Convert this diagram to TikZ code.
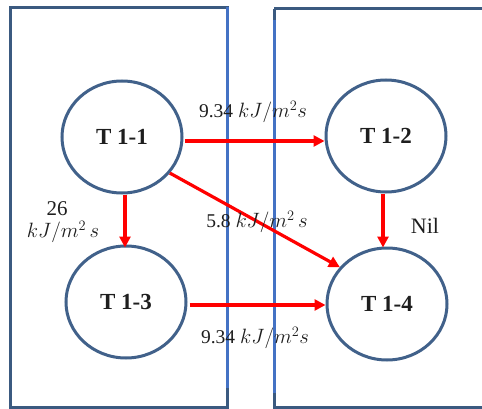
\documentclass[tikz,border=0pt]{standalone}
\usepackage{fontspec}
\setmainfont{Liberation Serif}
\usetikzlibrary{shapes.geometric,arrows.meta}
\definecolor{frame}{HTML}{3B5A80}
\definecolor{sep}{HTML}{4472C4}
\definecolor{ring}{HTML}{41618A}
\definecolor{txt}{HTML}{1E1E1E}
\tikzset{
  tnode/.style={ellipse,draw=ring,line width=3pt,minimum width=120pt,minimum height=112pt,inner sep=0pt,
    font=\fontsize{23}{26}\selectfont\bfseries,text=txt},
  flow/.style={draw=red,line width=3.2pt,-{Triangle[length=11pt,width=11pt]}},
  lbl/.style={font=\fontsize{19.5}{21}\selectfont,text=txt,inner sep=0pt},
  box/.style={draw=frame,line width=3pt},
  sepline/.style={draw=sep,line width=3pt}
}
\begin{document}
\begin{tikzpicture}[x=1pt,y=-1pt]
\useasboundingbox (0,0) rectangle (482,409);
\fill[white] (0,0) rectangle (482,409);
% frames
\draw[box] (10,8) rectangle (227.5,407);
\draw[box] (274,9) -- (490,9);
\draw[box] (274,9) -- (274,407) -- (490,407);
\draw[sepline] (227.5,7) -- (227.5,388);
\draw[sepline] (274,20) -- (274,393);
% nodes
\node[tnode] (t11) at (122,137) {T 1-1};
\node[tnode] (t12) at (386,136) {T 1-2};
\node[tnode] (t13) at (126,302) {T 1-3};
\node[tnode] (t14) at (387,304) {T 1-4};
% connectors
\draw[flow] ([xshift=1pt,yshift=-4pt]t11.east) -- ([yshift=-5pt]t12.west);
\draw[flow] ([xshift=3pt]t11.south) -- ([xshift=-1pt,yshift=-3pt]t13.north);
\draw[flow] (t11.-37) -- (t14.142);
\draw[flow] ([xshift=-3pt]t12.south) -- ([xshift=-4pt,yshift=-1pt]t14.north);
\draw[flow] ([xshift=2pt,yshift=-3pt]t13.east) -- ([yshift=-1pt]t14.west);
% labels
\node[lbl] (l1) at (253,112) {9.34 $kJ/m^2s$};
\node[lbl] (l2) at (257,222) {5.8 $kJ/m^2\,s$};
\node[lbl] (l3) at (255,338) {9.34 $kJ/m^2s$};
\node[lbl,font=\fontsize{21}{23}\selectfont] (l4) at (57,209) {26};
\node[lbl] (l5) at (63,232) {$kJ/m^2\,s$};
\node[lbl,font=\fontsize{22}{24}\selectfont] (l6) at (425,226) {Nil};
\end{tikzpicture}
\end{document}
